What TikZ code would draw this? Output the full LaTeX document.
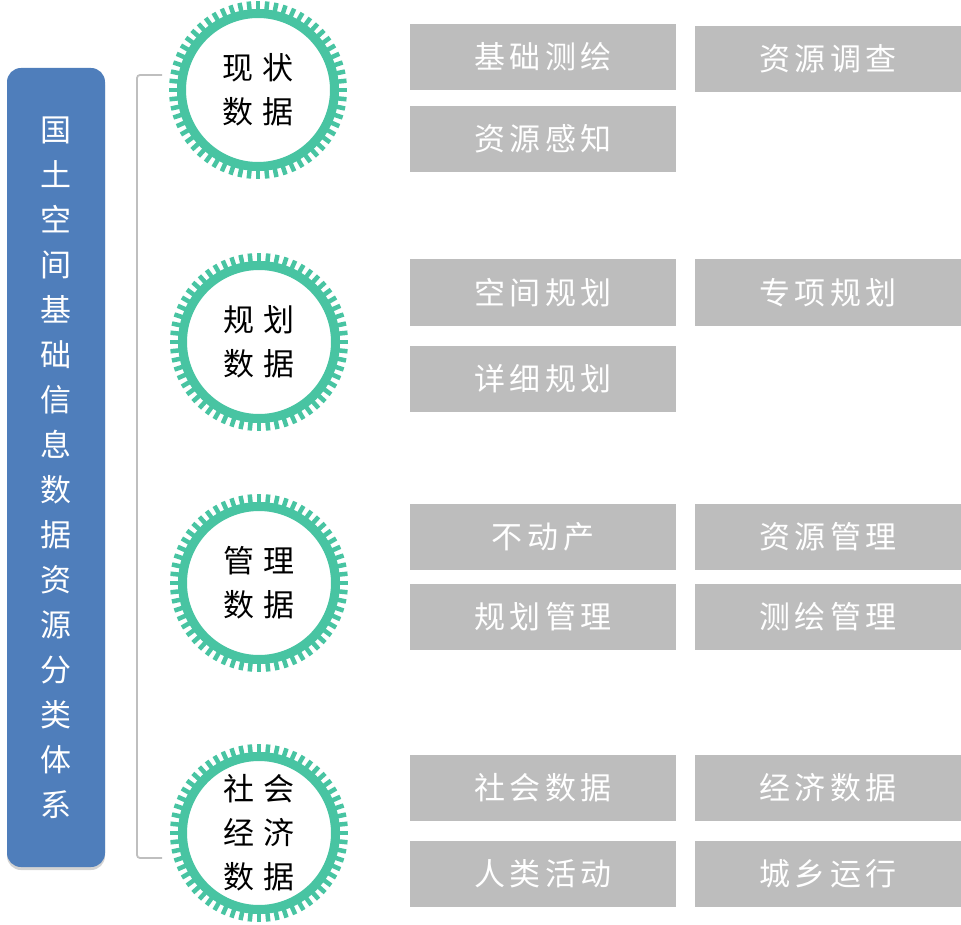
\documentclass[tikz,border=0pt]{standalone}
\usepackage{fontspec}
\usepackage{xcolor}
\usepackage{tikz}
\usetikzlibrary{shadows}

\newfontfamily\cjk{Noto Sans CJK SC}
\newfontfamily\cjkbox[LetterSpace=15]{Noto Sans CJK SC}
\newfontfamily\cjkgear[LetterSpace=30]{Noto Sans CJK SC}

\definecolor{sideblue}{RGB}{79,126,187}
\definecolor{gearteal}{RGB}{72,196,162}
\definecolor{cellgray}{RGB}{189,189,189}
\definecolor{bracegray}{RGB}{191,191,191}

\begin{document}
\begin{tikzpicture}[x=1pt, y=-1pt]

\tikzstyle{side}=[rectangle, rounded corners=14, fill=sideblue, text=white, minimum width=98, minimum height=799, inner sep=0, align=center, font=\cjk\fontsize{31}{45}\selectfont, drop shadow={opacity=0.35, shadow xshift=0pt, shadow yshift=-3pt}]
\tikzstyle{gear}=[circle, fill=white, draw=gearteal, line width=9, minimum size=153, inner sep=0, align=center, font=\cjkgear\fontsize{31}{44}\selectfont]
\tikzstyle{tooth}=[gearteal, line width=4.5]
\tikzstyle{cell}=[rectangle, fill=cellgray, text=white, minimum width=266, minimum height=66, inner sep=0, font=\cjkbox\fontsize{31}{31}\selectfont]
\tikzstyle{bracket}=[bracegray, line width=1.8, rounded corners=3]

\useasboundingbox (0,0) rectangle (961,925);

% side title %
\node[side] (title) at (56,467.5) {国\\土\\空\\间\\基\\础\\信\\息\\数\\据\\资\\源\\分\\类\\体\\系};

% gears %
\node[gear] (g1) at (258,90) {现状\\数据};
\node[gear] (g2) at (259,342) {规划\\数据};
\node[gear] (g3) at (259,583) {管理\\数据};
\node[gear] (g4) at (259,833) {社会\\经济\\数据};

\foreach \g in {g1,g2,g3,g4}
  \foreach \a in {0,6,...,354}
    \draw[tooth] (\g.\a) ++(\a:-1pt) -- ++(\a:9pt);

% cells %
\node[cell] (jcch) at (543,57) {基础测绘};
\node[cell] (zydc) at (828,59) {资源调查};
\node[cell] (zygz) at (543,139) {资源感知};

\node[cell] (kjgh) at (543,292.5) {空间规划};
\node[cell] (zxgh) at (828,292.5) {专项规划};
\node[cell] (xxgh) at (543,378.5) {详细规划};

\node[cell] (bdc) at (543,536.5) {不动产};
\node[cell] (zygl) at (828,536.5) {资源管理};
\node[cell] (ghgl) at (543,616.5) {规划管理};
\node[cell] (chgl) at (828,616.5) {测绘管理};

\node[cell] (shsj) at (543,787.5) {社会数据};
\node[cell] (jjsj) at (828,787.5) {经济数据};
\node[cell] (rlhd) at (543,873.5) {人类活动};
\node[cell] (cxyx) at (828,873.5) {城乡运行};

% bracket %
\coordinate (btop) at (162,75);
\coordinate (bbot) at (162,858);
\draw[bracket] (btop) -- ++(-25,0) |- (bbot);

\end{tikzpicture}
\end{document}
